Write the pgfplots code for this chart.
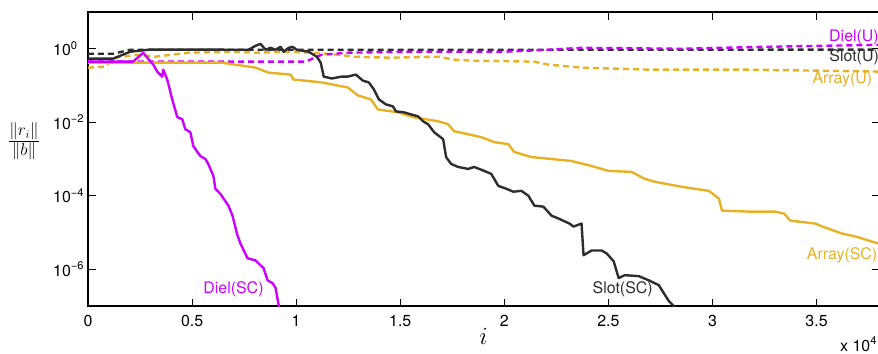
\documentclass[border=0pt]{standalone}
\usepackage{fontspec}
\setmainfont{TeX Gyre Heros}
\usepackage{pgfplots}
\pgfplotsset{compat=1.18}

\definecolor{dielc}{RGB}{204,0,255}
\definecolor{slotc}{RGB}{45,45,45}
\definecolor{arrc}{RGB}{230,178,36}

\begin{document}
\begin{tikzpicture}
\begin{axis}[
  at={(0,0)}, anchor=south west,
  scale only axis, width=791bp, height=294bp,
  xmin=0, xmax=38000, ymin=1e-7, ymax=10,
  ymode=log,
  xtick={0,5000,10000,15000,20000,25000,30000,35000},
  xticklabels={0,0.5,1,1.5,2,2.5,3,3.5},
  scaled x ticks=false,
  ytick={1e-6,1e-4,1e-2,1},
  yticklabels={10\textsuperscript{−6},10\textsuperscript{−4},10\textsuperscript{−2},10\textsuperscript{0}},
  yminorticks=false, xminorticks=false,
  tick align=inside, major tick length=7.5bp,
  tick style={black, line width=0.8bp},
  axis line style={line width=1.1bp},
  ticklabel style={font=\fontsize{16}{19}\selectfont},
  xticklabel style={inner sep=0pt, anchor=north, yshift=-9bp},
  yticklabel style={inner sep=0pt, anchor=west, xshift=-35bp},
  clip mode=individual,
  every axis plot/.append style={line width=2.4bp, line join=round},
]
% unpreconditioned runs (dashed)
\addplot[arrc, dash pattern=on 6bp off 4bp] coordinates {
 (0,0.306) (819,0.327) (1301,0.571) (2410,0.689) (3229,0.608) (4819,0.78)
 (7229,0.83) (8048,0.78) (9638,0.83) (10843,0.78) (12000,0.689) (12770,0.608)
 (14409,0.571) (16819,0.608) (17590,0.505) (18409,0.474) (21445,0.445)
 (22120,0.37) (23710,0.306) (26940,0.27) (31759,0.27) (38000,0.239)
};
\addplot[slotc, dash pattern=on 6bp off 4bp] coordinates {
 (0,0.73) (1205,0.73) (2024,0.94) (10000,0.94) (20000,0.94) (30000,0.94) (38000,0.95)
};
\addplot[dielc, dash pattern=on 6bp off 4bp] coordinates {
 (0,0.447) (10457,0.447) (11228,0.689) (12481,0.78) (15180,0.83) (20000,0.83)
 (22120,0.94) (23710,1.06) (28530,1.0) (32530,1.13) (38000,1.28)
};
% single-cell preconditioned runs (solid)
\addplot[arrc] coordinates {
 (0,0.419) (6409,0.419) (8048,0.306) (8674,0.224) (9734,0.198) (9879,0.145)
 (10843,0.128) (11228,0.121) (12481,0.0883) (12963,0.0537) (13590,0.0419)
 (13927,0.0224) (14891,0.0186) (15662,0.0136) (16819,0.01064) (17300,8.83e-3)
 (17590,5.71e-3) (18891,3.93e-3) (19517,2.88e-3) (20192,2.54e-3) (20481,1.55e-3)
 (21300,1.13e-3) (23227,8.83e-4) (24192,6.46e-4) (25012,4.74e-4) (26120,4.46e-4)
 (26747,2.88e-4) (27229,2.40e-4) (28530,1.75e-4) (29831,1.36e-4) (30313,8.3e-5)
 (30458,3.94e-5) (31759,3.70e-5) (33012,3.70e-5) (33446,3.26e-5) (33735,2.11e-5)
 (34940,1.75e-5) (35277,1.45e-5) (36241,9.3e-6) (36867,7.8e-6) (38072,4.8e-6)
};
\addplot[slotc] coordinates {
 (0,0.537) (1205,0.537) (2024,0.83) (2988,0.95) (7710,0.94) (8048,1.2)
 (8289,1.36) (8530,0.94) (8771,1.06) (9012,0.94) (9253,1.13) (9397,0.83)
 (9638,1.06) (9831,1.13) (10024,0.94) (10602,0.83) (10988,0.608) (11180,0.419)
 (11325,0.175) (11710,0.155) (12192,0.175) (12481,0.175) (12867,0.198)
 (13204,0.136) (13493,0.121) (13734,0.078) (13975,0.0419) (14312,0.0306)
 (14650,0.0271) (14794,0.0198) (15180,0.0186) (15517,0.0164) (15855,0.0145)
 (16096,0.01064) (16337,8.83e-3) (16626,5.37e-3) (17060,3.47e-3) (17204,1.13e-3)
 (17445,7.33e-4) (17782,6.08e-4) (18264,5.37e-4) (18553,6.08e-4) (19035,4.74e-4)
 (19372,3.94e-4) (19710,1.86e-4) (20095,1.55e-4) (20433,1.29e-4) (20819,1.36e-4)
 (21156,1.0e-4) (21445,5.37e-5) (21879,5.05e-5) (22264,2.88e-5) (22602,2.40e-5)
 (23132,1.75e-5) (23325,1.45e-5) (23710,1.75e-5) (23806,2.40e-6) (24192,3.24e-6)
 (24675,3.24e-6) (24916,2.70e-6) (25253,1.65e-6) (25494,5.75e-7) (25783,6.9e-7)
 (26458,6.5e-7) (26940,5.0e-7) (27420,3.7e-7) (27660,2.24e-7) (27900,1.37e-7)
 (28140,1.0e-7) (28300,8e-8)
};
\addplot[dielc] coordinates {
 (0,0.447) (2169,0.447) (2651,0.776) (3133,0.372) (3325,0.240) (3566,0.174)
 (3614,0.269) (3807,0.145) (4048,0.0417) (4289,0.0138) (4530,0.0120)
 (4675,6.46e-3) (4916,5.37e-3) (5060,2.24e-3) (5398,1.20e-3) (5639,1.0e-3)
 (5783,7.24e-4) (6024,3.47e-4) (6120,1.55e-4) (6361,1.12e-4) (6747,5.37e-5)
 (6940,2.88e-5) (7181,8.32e-6) (7325,5.01e-6) (7663,2.00e-6) (8048,1.74e-6)
 (8434,1.07e-6) (8627,5.01e-7) (8867,4.17e-7) (9012,3.09e-7) (9157,1.07e-7)
 (9200,8e-8)
};
% curve labels
\begin{scope}[every node/.style={font=\fontsize{16}{19}\selectfont, inner sep=0pt}]
\node[dielc, anchor=east] at (axis cs:38000,1.98) {Diel(U)};
\node[slotc, anchor=east] at (axis cs:38000,0.571) {Slot(U)};
\node[arrc, anchor=east] at (axis cs:37685,0.145) {Array(U)};
\node[arrc, anchor=east] at (axis cs:37926,2.4e-6) {Array(SC)};
\node[slotc] at (axis cs:25686,2.88e-7) {Slot(SC)};
\node[dielc] at (axis cs:6988,2.88e-7) {Diel(SC)};
\end{scope}
% axis labels
\node[inner sep=0pt, font=\fontsize{24}{28}\selectfont] at ([xshift=-64bp, yshift=164.5bp]rel axis cs:0,0) {$\frac{\|r_i\|}{\|b\|}$};
\node[inner sep=0pt, font=\fontsize{24}{28}\selectfont] at ([yshift=-30.5bp]rel axis cs:0.5,0) {$i$};
\node[inner sep=0pt, anchor=base west, font=\fontsize{16}{19}\selectfont] at ([xshift=752bp, yshift=-45bp]rel axis cs:0,0) {x 10\textsuperscript{4}};
\end{axis}
\pgfresetboundingbox
\path[use as bounding box] (-88bp,-48bp) rectangle (790bp,306bp);
\end{tikzpicture}
\end{document}
